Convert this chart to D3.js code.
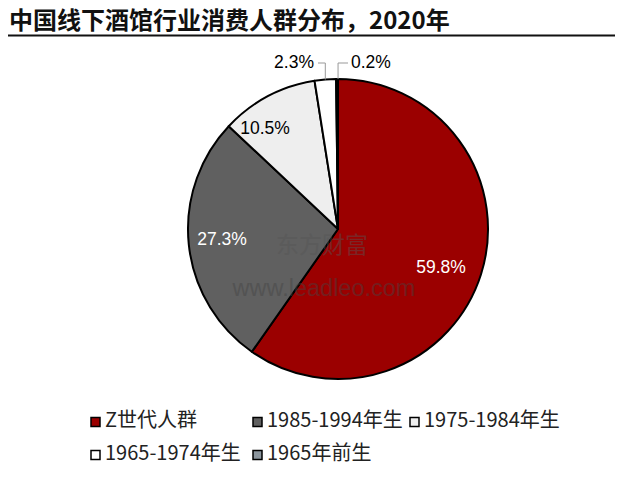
<!DOCTYPE html>
<html><head><meta charset="utf-8">
<script src="https://cdn.jsdelivr.net/npm/d3@7"></script>
<style>body{margin:0;background:#fff}svg{display:block}</style>
</head><body>
<script>
const categories = ["Z世代人群","1985-1994年生","1975-1984年生","1965-1974年生","1965年前生"];
const values = [59.8, 27.3, 10.5, 2.3, 0.2];
const labels = ["59.8%","27.3%","10.5%","2.3%","0.2%"];
const colors = ["#9b0000","#606060","#eeeeee","#ffffff","#8c969e"];

const W=623,H=479;
const svg=d3.select("body").append("svg").attr("width",W).attr("height",H);
const font="'Noto Sans CJK SC','Liberation Sans',sans-serif";

svg.append("text").attr("x",9).attr("y",29).attr("font-family",font).attr("font-weight","bold")
  .attr("font-size",24).attr("fill","#111").text("中国线下酒馆行业消费人群分布，2020年");
svg.append("line").attr("x1",8).attr("x2",615).attr("y1",35.5).attr("y2",35.5).attr("stroke","#111").attr("stroke-width",2);

const cx=338,cy=229,r=150;
const pie=d3.pie().sort(null).value(d=>d)(values);
const arc=d3.arc().innerRadius(0).outerRadius(r);
const g=svg.append("g").attr("transform",`translate(${cx},${cy})`);
g.selectAll("path").data(pie).join("path").attr("d",arc)
  .attr("fill",(d,i)=>colors[i]).attr("stroke","#000").attr("stroke-width",2).attr("stroke-linejoin","round");

// watermark
svg.append("text").attr("x",322).attr("y",247).attr("text-anchor","middle").attr("dominant-baseline","middle").attr("font-family",font)
  .attr("font-size",23).attr("fill","#555").attr("opacity",0.45).text("东方财富");
svg.append("text").attr("x",324).attr("y",290).attr("text-anchor","middle").attr("dominant-baseline","middle").attr("font-family","'Liberation Sans',sans-serif")
  .attr("font-size",23.5).attr("fill","#444").attr("opacity",0.45).text("www.leadleo.com");

// inside labels
const inside=[{i:0,x:441,y:268,c:"#fff"},{i:1,x:222,y:240,c:"#fff"},{i:2,x:265,y:129,c:"#000"}];
inside.forEach(o=>{
  svg.append("text").attr("x",o.x).attr("y",o.y).attr("text-anchor","middle").attr("dominant-baseline","middle")
   .attr("font-family","'Liberation Sans',sans-serif").attr("font-size",17.5).attr("fill",o.c).text(labels[o.i]);
});
// outside labels with leaders
const pt=(a,rr)=>[cx+rr*Math.sin(a),cy-rr*Math.cos(a)];
const m3=(pie[3].startAngle+pie[3].endAngle)/2, m4=(pie[4].startAngle+pie[4].endAngle)/2;
const p3=pt(m3,r), p4=pt(m4,r);
svg.append("path").attr("d",`M${p3[0]},${p3[1]}V63H318`).attr("fill","none").attr("stroke","#999").attr("stroke-width",1);
svg.append("path").attr("d",`M${p4[0]+1},${p4[1]}V63H348`).attr("fill","none").attr("stroke","#999").attr("stroke-width",1);
svg.append("text").attr("x",314).attr("y",63).attr("text-anchor","end").attr("dominant-baseline","middle")
  .attr("font-family","'Liberation Sans',sans-serif").attr("font-size",17.5).attr("fill","#000").text(labels[3]);
svg.append("text").attr("x",351).attr("y",63).attr("text-anchor","start").attr("dominant-baseline","middle")
  .attr("font-family","'Liberation Sans',sans-serif").attr("font-size",17.5).attr("fill","#000").text(labels[4]);

// legend
const pos=[[91,422],[253,422],[410,422],[91,455],[253,455]];
categories.forEach((c,i)=>{
  const [x,y]=pos[i];
  svg.append("rect").attr("x",x).attr("y",y-4.5).attr("width",9).attr("height",9)
    .attr("fill",colors[i]).attr("stroke","#000").attr("stroke-width",1.5);
  svg.append("text").attr("x",x+14).attr("y",y).attr("dominant-baseline","middle")
    .attr("font-family",font).attr("font-size",20).attr("fill","#222").text(c);
});
</script>
</body></html>
